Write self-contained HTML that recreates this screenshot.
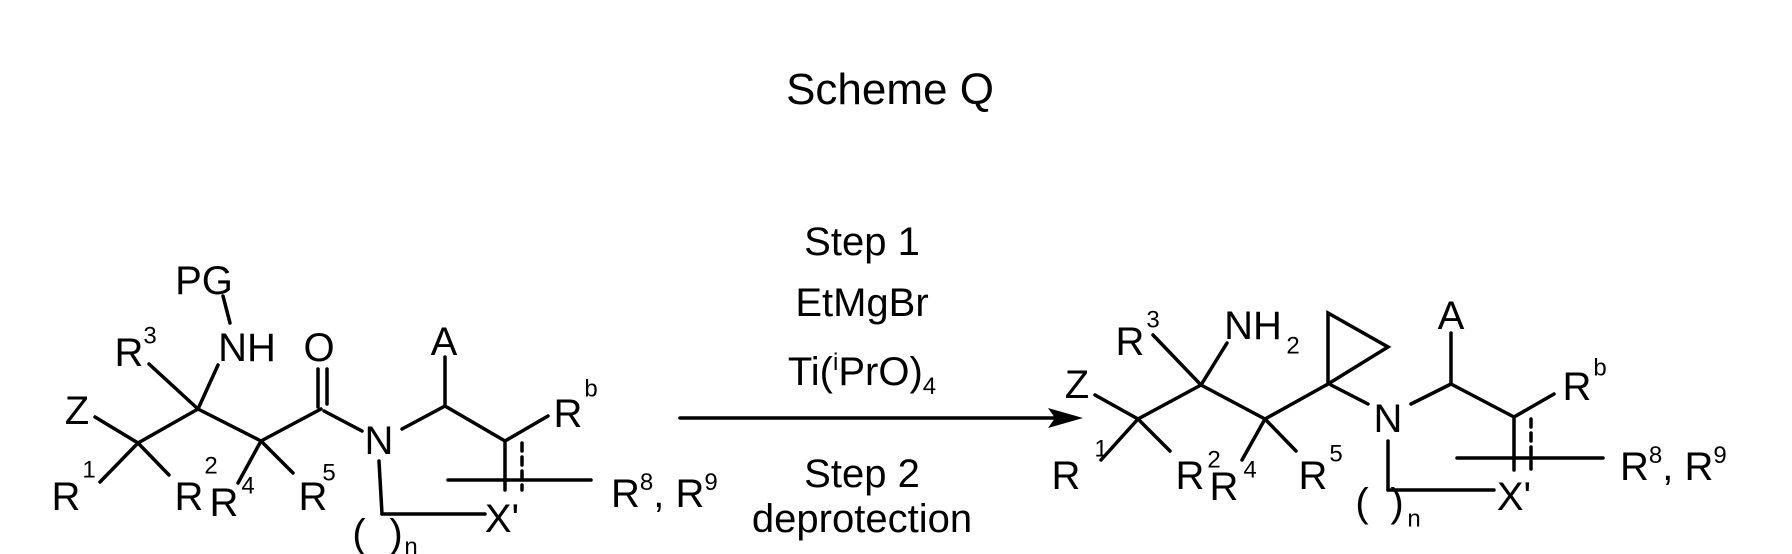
<!DOCTYPE html>
<html><head><meta charset="utf-8"><style>
html,body{margin:0;padding:0;background:#fff;}
svg{display:block;}
text{font-family:"Liberation Sans",Arial,sans-serif;fill:#000;}
.a{font-size:40px;text-anchor:middle;dominant-baseline:central;}
.s{font-size:24px;text-anchor:middle;dominant-baseline:central;}
.r{font-size:40px;}
</style></head><body>
<svg width="1792" height="554" viewBox="0 0 1792 554" xmlns="http://www.w3.org/2000/svg">
<text x="890" y="104" font-size="44" text-anchor="middle">Scheme Q</text>

<g stroke="#000" stroke-width="3.5" fill="none" stroke-linecap="round">
<line x1="95" y1="417" x2="138" y2="443"/>
<line x1="138" y1="443" x2="100" y2="482"/>
<line x1="138" y1="443" x2="169" y2="475"/>
<line x1="138" y1="443" x2="198" y2="409"/>
<line x1="198" y1="409" x2="149" y2="364"/>
<line x1="198" y1="409" x2="218" y2="365"/>
<line x1="230" y1="323" x2="223" y2="296"/>
<line x1="198" y1="409" x2="261" y2="441"/>
<line x1="261" y1="441" x2="238" y2="483"/>
<line x1="261" y1="441" x2="293" y2="473"/>
<line x1="261" y1="441" x2="321" y2="409"/>
<line x1="318" y1="369" x2="318" y2="407"/>
<line x1="327" y1="369" x2="327" y2="404"/>
<line x1="324" y1="411" x2="362" y2="431"/>
<line x1="402" y1="429" x2="445" y2="406"/>
<line x1="445" y1="406" x2="445" y2="357"/>
<line x1="445" y1="406" x2="505" y2="441"/>
<line x1="505" y1="441" x2="548" y2="416"/>
<line x1="505" y1="441" x2="505" y2="490"/>
<line x1="522" y1="443" x2="522" y2="490" stroke-dasharray="8,6"/>
<line x1="448" y1="480" x2="591" y2="480"/>
<line x1="379" y1="461" x2="382" y2="514"/>
<line x1="382" y1="514" x2="485" y2="514"/>
<line x1="680" y1="418" x2="1065" y2="418"/>
<line x1="1095" y1="395" x2="1138" y2="419"/>
<line x1="1138" y1="419" x2="1101" y2="460"/>
<line x1="1138" y1="419" x2="1170" y2="451"/>
<line x1="1138" y1="419" x2="1201" y2="385"/>
<line x1="1201" y1="385" x2="1153" y2="335"/>
<line x1="1201" y1="385" x2="1227" y2="343"/>
<line x1="1201" y1="385" x2="1265" y2="419"/>
<line x1="1265" y1="419" x2="1242" y2="460"/>
<line x1="1265" y1="419" x2="1296" y2="451"/>
<line x1="1265" y1="419" x2="1328" y2="384"/>
<polygon points="1328,384 1328,313 1388,347" stroke-linejoin="miter"/>
<line x1="1331" y1="385" x2="1368" y2="404"/>
<line x1="1411" y1="404" x2="1451" y2="384"/>
<line x1="1451" y1="384" x2="1451" y2="333"/>
<line x1="1451" y1="384" x2="1514" y2="417"/>
<line x1="1514" y1="417" x2="1554" y2="394"/>
<line x1="1514" y1="417" x2="1514" y2="470"/>
<line x1="1531" y1="419" x2="1531" y2="470" stroke-dasharray="8,6"/>
<line x1="1457" y1="458" x2="1603" y2="458"/>
<line x1="1388" y1="441" x2="1388" y2="490"/>
<line x1="1388" y1="490" x2="1494" y2="490"/>
</g>
<polygon points="1083,418 1048,408 1055,418 1048,428" fill="#000"/>

<text class="a" x="77" y="411">Z</text>
<text class="a" x="66" y="497">R</text><text class="s" x="89" y="470">1</text>
<text class="a" x="189" y="497">R</text><text class="s" x="211" y="466">2</text>
<text class="a" x="129" y="353">R</text><text class="s" x="150" y="336">3</text>
<text class="a" x="247" y="348">NH</text>
<text class="a" x="204" y="281">PG</text>
<text class="a" x="224" y="503">R</text><text class="s" x="248" y="486">4</text>
<text class="a" x="313" y="497">R</text><text class="s" x="329" y="473">5</text>
<text class="a" x="319" y="348">O</text>
<text class="a" x="379" y="441">N</text>
<text class="a" x="444" y="342">A</text>
<text class="a" x="568" y="414">R</text><text class="s" x="591" y="389">b</text>
<text class="r" x="611" y="507">R<tspan font-size="24" dy="-17">8</tspan><tspan dy="17">, R</tspan><tspan font-size="24" dy="-17">9</tspan></text>
<text class="a" x="502" y="519">X'</text>
<text class="a" x="359" y="534">(</text><text class="a" x="396" y="534">)</text><text class="s" x="411" y="547">n</text>

<text x="862" y="255" font-size="40" text-anchor="middle">Step 1</text>
<text x="862" y="316" font-size="40" text-anchor="middle">EtMgBr</text>
<text x="862" y="385" font-size="40" text-anchor="middle">Ti(<tspan font-size="24" dy="-15">i</tspan><tspan dy="15">PrO)</tspan><tspan font-size="24" dy="9">4</tspan></text>
<text x="862" y="487" font-size="40" text-anchor="middle">Step 2</text>
<text x="862" y="532" font-size="40" text-anchor="middle">deprotection</text>

<text class="a" x="1077" y="385">Z</text>
<text class="a" x="1066" y="476">R</text><text class="s" x="1101" y="449">1</text>
<text class="a" x="1190" y="476">R</text><text class="s" x="1214" y="460">2</text>
<text class="a" x="1130" y="342">R</text><text class="s" x="1153" y="320">3</text>
<text class="a" x="1253" y="326">NH</text><text class="s" x="1293" y="346">2</text>
<text class="a" x="1224" y="487">R</text><text class="s" x="1250" y="470">4</text>
<text class="a" x="1313" y="476">R</text><text class="s" x="1336" y="454">5</text>
<text class="a" x="1388" y="419">N</text>
<text class="a" x="1451" y="316">A</text>
<text class="a" x="1577" y="387">R</text><text class="s" x="1600" y="368">b</text>
<text class="r" x="1620" y="480">R<tspan font-size="24" dy="-17">8</tspan><tspan dy="17">, R</tspan><tspan font-size="24" dy="-17">9</tspan></text>
<text class="a" x="1514" y="497">X'</text>
<text class="a" x="1362" y="503">(</text><text class="a" x="1397" y="503">)</text><text class="s" x="1414" y="519">n</text>
</svg>
</body></html>
